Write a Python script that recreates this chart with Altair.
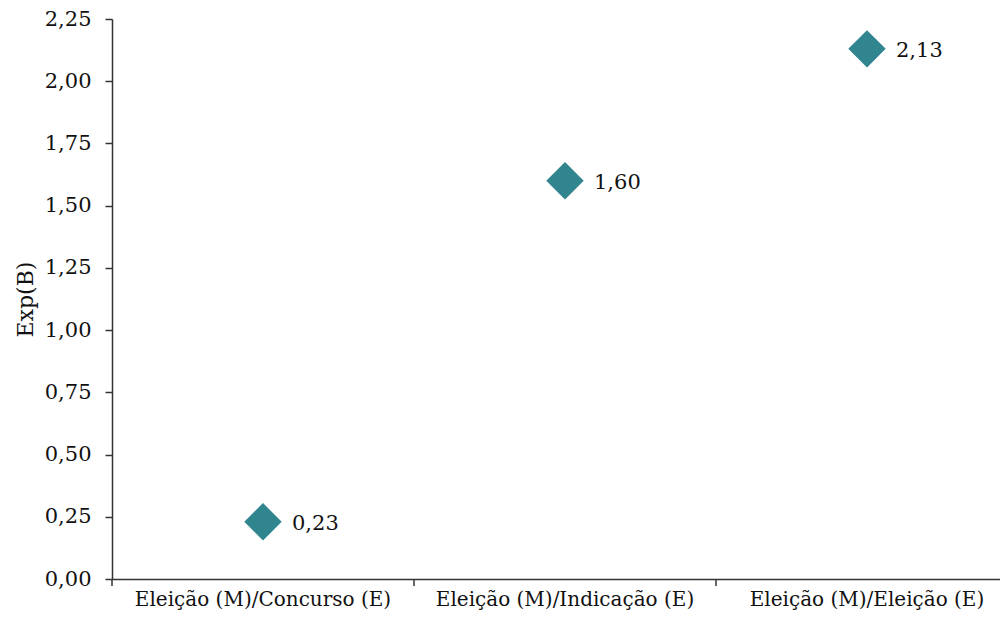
import altair as alt
import pandas as pd

categories = ["Eleição (M)/Concurso (E)", "Eleição (M)/Indicação (E)", "Eleição (M)/Eleição (E)"]
values = [0.23, 1.60, 2.13]
y_ticks = [0, 0.25, 0.5, 0.75, 1.0, 1.25, 1.5, 1.75, 2.0, 2.25]

df = pd.DataFrame({"cat": categories, "val": values})

FONT = "DejaVu Serif"
COLOR = "#31858F"
AX = "#333333"
FS = 21

x_enc = alt.X("cat:N", sort=categories, title=None,
              scale=alt.Scale(paddingInner=0, paddingOuter=0),
              axis=alt.Axis(labelAngle=0, ticks=False, labelPadding=10, labelLimit=0,
                            labelFont=FONT, labelFontSize=20, labelColor="#111111",
                            domainColor=AX, domainWidth=1.5))
y_enc = alt.Y("val:Q", title="Exp(B)",
              scale=alt.Scale(domain=[0, 2.25], nice=False),
              axis=alt.Axis(values=y_ticks, labelExpr="replace(format(datum.value, '.2f'), '.', ',')",
                            labelFont=FONT, labelFontSize=FS, labelColor="#111111",
                            titleFont=FONT, titleFontSize=22, titleFontWeight="normal",
                            titleColor="#111111", titlePadding=7,
                            tickSize=7, tickColor=AX, tickWidth=1.5, labelPadding=14,
                            domainColor=AX, domainWidth=1.5, grid=False))

base = alt.Chart(df)

points = base.mark_point(shape="diamond", filled=True, size=1400, opacity=1, color=COLOR).encode(
    x=x_enc, y=y_enc)

labels = base.transform_calculate(
    lab="replace(format(datum.val, '.2f'), '.', ',')"
).mark_text(align="left", baseline="middle", dx=29, dy=2, font=FONT, fontSize=FS, color="#111111").encode(
    x=alt.X("cat:N", sort=categories), y="val:Q", text="lab:N")

ticks = base.mark_rule(color=AX, strokeWidth=1.5).encode(
    x=alt.X("cat:N", sort=categories, bandPosition=0),
    y=alt.value(560), y2=alt.value(567))

chart = alt.layer(points, labels, ticks).properties(
    width=906, height=560,
    autosize=alt.AutoSizeParams(type="none"),
    padding={"left": 104, "top": 11, "right": -18, "bottom": 34},
).configure(background="white").configure_view(stroke=None)

chart.save("out.html", embed_options={"renderer": "svg", "actions": False})
